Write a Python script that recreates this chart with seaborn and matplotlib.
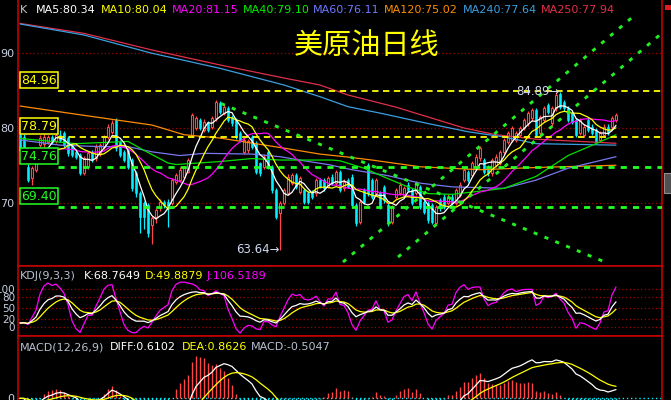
import numpy as np
import pandas as pd
import matplotlib
matplotlib.use("Agg")
import matplotlib.pyplot as plt
import matplotlib.transforms as mtransforms
from matplotlib.patches import Rectangle
import seaborn as sns

# daily candles, oldest first
opens = [79.06, 78.84, 74.81, 73.25, 74.37, 77.72, 77.86, 78.17, 78.84, 78.30,
         79.06, 79.29, 78.62, 77.72, 76.83, 76.38, 73.92, 74.81, 76.83, 75.93,
         76.60, 77.50, 78.84, 79.51, 81.08, 78.17, 76.83, 77.05, 75.71, 73.92,
         71.23, 69.89, 69.67, 66.98, 68.10, 69.22, 70.12, 70.12, 69.89, 72.80,
         73.02, 73.47, 74.14, 79.06, 79.96, 81.08, 79.73, 80.63, 80.18, 81.30,
         83.31, 81.97, 82.64, 81.52, 81.08, 79.29, 76.83, 77.00, 78.84, 77.95,
         75.26, 74.81, 76.83, 74.81, 71.68, 68.55, 69.89, 71.23, 72.58, 73.69,
         71.46, 71.68, 71.23, 71.46, 71.23, 73.02, 73.02, 72.13, 73.47, 72.58,
         74.14, 71.90, 73.02, 73.47, 69.67, 67.43, 71.68, 75.04, 73.02, 71.23,
         71.23, 72.13, 69.67, 67.43, 70.79, 71.23, 71.01, 72.35, 71.68, 71.23,
         72.13, 70.12, 69.89, 69.67, 67.21, 70.34, 70.79, 69.89, 70.79, 69.89,
         71.01, 73.02, 74.14, 73.69, 74.81, 75.93, 75.71, 74.81, 73.92, 75.04,
         75.26, 76.83, 78.17, 78.39, 78.39, 79.06, 79.96, 80.63, 81.30, 82.42,
         79.29, 81.08, 83.09, 80.63, 82.64, 84.60, 83.54, 82.64, 81.97, 81.08,
         79.29, 79.06, 81.08, 80.18, 79.73, 78.39, 79.06, 80.18, 80.18, 81.08]
closes = [77.05, 76.83, 73.02, 74.59, 75.48, 78.62, 78.84, 78.84, 78.17, 79.06,
          78.39, 77.72, 76.60, 76.38, 76.16, 73.92, 75.93, 76.60, 75.71, 77.50,
          77.72, 78.84, 80.18, 80.63, 77.27, 76.38, 75.71, 74.81, 71.90, 71.23,
          68.10, 68.10, 65.86, 67.88, 69.00, 70.12, 69.67, 69.44, 73.02, 73.69,
          74.37, 74.59, 75.71, 81.75, 81.30, 79.96, 80.85, 79.73, 81.30, 83.54,
          82.20, 82.87, 81.08, 80.63, 78.84, 78.39, 78.39, 78.20, 77.50, 74.14,
          73.92, 76.16, 74.81, 71.68, 68.10, 69.89, 71.68, 73.47, 73.69, 72.13,
          73.25, 70.12, 70.12, 70.79, 73.02, 72.13, 71.90, 73.25, 72.58, 74.14,
          71.68, 72.80, 72.13, 69.67, 67.21, 70.12, 70.12, 71.23, 70.79, 73.02,
          69.44, 70.34, 67.21, 69.44, 71.68, 72.35, 71.90, 71.68, 69.89, 72.58,
          69.44, 68.77, 67.65, 67.43, 69.44, 69.22, 69.44, 70.79, 69.89, 71.68,
          72.35, 74.37, 73.02, 75.26, 76.16, 77.27, 74.14, 73.92, 75.71, 76.16,
          76.83, 78.39, 79.29, 79.96, 79.29, 79.96, 81.08, 81.97, 82.42, 79.06,
          81.52, 82.64, 82.20, 82.64, 84.43, 82.87, 82.64, 81.08, 80.85, 79.06,
          81.08, 80.18, 79.73, 79.29, 78.17, 79.29, 80.18, 79.29, 81.30, 81.75]
highs = [79.4, 79.2, 75.2, 74.9, 75.9, 79.0, 79.2, 79.1, 79.1, 79.4,
         79.7, 79.6, 78.9, 78.0, 77.1, 76.6, 76.2, 76.9, 77.1, 77.8,
         78.0, 79.1, 80.5, 81.08, 81.3, 78.4, 77.1, 77.3, 76.0, 74.2,
         71.5, 70.2, 70.0, 68.2, 69.3, 70.5, 70.4, 70.5, 73.3, 74.0,
         74.7, 74.9, 76.0, 82.0, 81.6, 81.4, 81.2, 80.9, 81.6, 83.8,
         83.6, 83.2, 82.9, 81.8, 81.3, 79.6, 78.7, 78.5, 79.1, 78.2,
         75.5, 76.5, 77.1, 75.1, 72.0, 70.2, 72.0, 73.8, 74.0, 74.0,
         73.6, 72.0, 71.5, 71.7, 73.3, 73.3, 73.3, 73.6, 73.8, 74.4,
         74.4, 73.1, 73.3, 73.8, 70.0, 70.4, 72.0, 75.3, 73.3, 73.3,
         71.5, 72.4, 70.0, 69.7, 72.0, 72.7, 72.2, 72.7, 72.0, 72.9,
         72.4, 70.4, 70.2, 70.0, 69.7, 70.6, 71.1, 71.1, 71.1, 72.0,
         72.7, 74.7, 74.4, 75.6, 76.5, 77.6, 76.0, 75.1, 76.0, 76.5,
         77.1, 78.7, 79.6, 80.3, 79.6, 80.3, 81.4, 82.3, 82.7, 82.7,
         81.8, 82.9, 83.4, 82.9, 84.89, 84.8, 83.8, 82.9, 82.2, 81.3,
         81.3, 80.5, 81.5, 80.5, 80.0, 79.6, 80.5, 80.6, 81.6, 82.0]
lows = [76.8, 76.5, 72.8, 72.35, 74.1, 77.4, 77.5, 77.9, 77.9, 78.0,
        78.1, 77.4, 76.3, 76.1, 75.9, 73.7, 73.7, 74.5, 75.4, 75.6,
        76.3, 77.2, 78.5, 79.2, 76.9, 76.1, 75.4, 74.5, 71.5, 70.8,
        65.86, 66.5, 65.42, 64.43, 67.2, 68.8, 69.3, 66.76, 69.6, 72.5,
        72.7, 73.2, 73.9, 78.8, 79.7, 79.7, 79.5, 79.4, 79.9, 81.0,
        81.9, 81.7, 80.8, 80.3, 78.5, 78.1, 76.5, 76.7, 77.2, 73.8,
        73.6, 74.5, 74.5, 71.3, 67.8, 63.64, 69.6, 71.0, 72.3, 71.8,
        71.2, 69.8, 69.8, 70.5, 70.9, 71.9, 71.6, 71.9, 72.3, 72.3,
        71.4, 71.6, 71.9, 69.4, 66.9, 67.1, 69.8, 70.9, 70.5, 70.9,
        69.1, 70.0, 66.9, 67.1, 70.5, 71.0, 70.7, 71.4, 69.6, 71.0,
        69.1, 68.5, 67.3, 67.1, 66.98, 68.9, 69.1, 69.6, 69.6, 69.6,
        70.7, 72.7, 72.7, 73.4, 74.5, 75.6, 73.8, 73.6, 73.6, 74.7,
        75.0, 76.5, 77.9, 78.1, 78.1, 78.8, 79.7, 80.3, 81.0, 78.8,
        79.0, 80.8, 81.9, 80.3, 82.3, 82.6, 82.3, 80.8, 80.6, 78.8,
        79.0, 78.8, 79.4, 79.0, 77.9, 78.1, 78.8, 79.0, 79.9, 80.8]

# longer moving averages (need history before the window): candle index -> value
ma40_idx = [0, 14, 27, 31, 37, 39, 50, 58, 65, 78, 80, 86, 92, 97, 102, 108, 113, 121, 129, 137, 144, 149]
ma40_val = [78.6, 77.9, 78.2, 77.0, 75.3, 75.1, 75.5, 75.9, 75.7, 75.7, 75.6, 74.6, 73.2, 72.1, 71.2, 71.1,
            71.4, 71.9, 73.5, 76.3, 77.9, 79.1]
ma60_idx = [0, 10, 20, 27, 33, 40, 46, 58, 65, 71, 77, 83, 92, 100, 108, 115, 121, 129, 137, 144, 149]
ma60_val = [78.4, 77.7, 77.5, 77.5, 76.8, 76.3, 76.6, 76.5, 76.15, 75.6, 75.1, 74.4, 73.6, 72.6, 72.1, 72.0,
            71.9, 73.0, 74.6, 75.5, 76.15]
ma120_idx = [0, 16, 33, 41, 50, 66, 75, 82, 88, 100, 115, 129, 149]
ma120_val = [82.95, 81.7, 80.4, 79.1, 78.65, 77.3, 76.5, 76.1, 75.7, 74.8, 74.4, 74.7, 75.0]
ma240_idx = [0, 16, 33, 50, 66, 75, 82, 90, 102, 112, 121, 129, 149]
ma240_val = [93.96, 92.48, 90.03, 88.01, 85.77, 84.2, 82.86, 82.0, 80.6, 79.5, 78.8, 77.9, 77.7]
ma250_idx = [0, 16, 33, 50, 66, 75, 82, 94, 111, 119, 129, 149]
ma250_val = [94.04, 92.7, 90.47, 88.46, 86.71, 85.77, 84.43, 82.8, 80.0, 79.1, 78.5, 77.95]

# marked price levels
levels = [84.96, 78.79, 74.76, 69.40]
level_colors = ['#ffff00', '#ffff00', '#22ff22', '#22ff22']

# drawn trend lines: (start idx, start price, end idx, end price)
trend_lines = [(50.25, 83.29, 146.25, 62.01),
               (80.75, 62.01, 153.75, 95.17),
               (94.5, 62.68, 160.5, 92.75)]

header_main = [("K", "#c8c8c8"), ("MA5:80.34", "#ffffff"), ("MA10:80.04", "#ffff00"),
               ("MA20:81.15", "#ff00ff"), ("MA40:79.10", "#00ee00"), ("MA60:76.11", "#6f78ff"),
               ("MA120:75.02", "#ff8c00"), ("MA240:77.64", "#3a9fe0"), ("MA250:77.94", "#e0304a")]
header_main_x = [20, 36, 101, 172, 243, 313, 384, 463, 541]
header_kdj = [("KDJ(9,3,3)", "#b8c0d0"), ("K:68.7649", "#ffffff"), ("D:49.8879", "#ffff00"),
              ("J:106.5189", "#ff00ff")]
header_kdj_x = [20, 84, 145, 207]
header_macd = [("MACD(12,26,9)", "#b8c0d0"), ("DIFF:0.6102", "#ffffff"), ("DEA:0.8626", "#ffff00"),
               ("MACD:-0.5047", "#b8c0d0")]
header_macd_x = [20, 110, 182, 251]

UP = '#ff4646'
DOWN = '#00f0ff'
RED_LINE = '#c00000'
LABEL = '#c8d0e0'

sns.set_style("dark", {"axes.facecolor": "black", "figure.facecolor": "black"})
plt.rcParams['font.family'] = ['DejaVu Sans', 'Noto Sans CJK SC']

df = pd.DataFrame({'o': opens, 'h': highs, 'l': lows, 'c': closes})
df['i'] = np.arange(len(df))

# short averages from the closes
for n in (5, 10, 20):
    df['ma%d' % n] = df['c'].rolling(n, min_periods=1).mean()

# KDJ(9,3,3)
llv = df['l'].rolling(9, min_periods=1).min()
hhv = df['h'].rolling(9, min_periods=1).max()
rsv = (df['c'] - llv) / (hhv - llv) * 100
df['k'] = rsv.ewm(alpha=1 / 3, adjust=False).mean()
df['d'] = df['k'].ewm(alpha=1 / 3, adjust=False).mean()
df['j'] = 3 * df['k'] - 2 * df['d']

# MACD(12,26,9)
df['diff'] = df['c'].ewm(span=12, adjust=False).mean() - df['c'].ewm(span=26, adjust=False).mean()
df['dea'] = df['diff'].ewm(span=9, adjust=False).mean()
df['macd'] = 2 * (df['diff'] - df['dea'])

W, H = 671, 400
fig = plt.figure(figsize=(6.71, 4.0), dpi=100)
ax = fig.add_axes([18 / W, 134 / H, 644 / W, 266 / H])
ax_kdj = fig.add_axes([18 / W, 64 / H, 644 / W, 70 / H])
ax_macd = fig.add_axes([18 / W, 0, 644 / W, 64 / H])

for a in (ax, ax_kdj, ax_macd):
    a.set_facecolor('black')
    a.set_xlim(-0.5, 160.5)
    a.set_xticks([])
    for s in a.spines.values():
        s.set_color(RED_LINE)
        s.set_linewidth(1.2)
    a.tick_params(axis='y', length=0, pad=2.5, labelcolor=LABEL)
ax.spines['top'].set_visible(False)
ax_macd.spines['bottom'].set_visible(False)

# ---- main panel ----
ax.set_ylim(61.48, 97.18)
ax.set_yticks([70, 80, 90])
ax.tick_params(axis='y', labelsize=8)
ax.grid(axis='y', color='#a00000', linestyle=(0, (1, 2)), linewidth=0.9)
ax.grid(axis='x', visible=False)

up = df['c'] >= df['o']
colors = np.where(up, UP, DOWN)
ax.vlines(df['i'], df['l'], df['h'], colors=colors, linewidth=0.9, zorder=2)
body_lo = np.minimum(df['o'], df['c'])
body_h = np.maximum(np.abs(df['c'] - df['o']), 0.06)
ax.bar(df['i'][up], body_h[up], bottom=body_lo[up], width=0.62,
       facecolor='black', edgecolor=UP, linewidth=0.8, zorder=2.5)
ax.bar(df['i'][~up], body_h[~up], bottom=body_lo[~up], width=0.62,
       facecolor=DOWN, edgecolor=DOWN, linewidth=0.4, zorder=2.5)

long_mas = [(ma250_idx, ma250_val, '#e0304a'), (ma240_idx, ma240_val, '#3a9fe0'),
            (ma120_idx, ma120_val, '#ff8c00'), (ma60_idx, ma60_val, '#7878f0'),
            (ma40_idx, ma40_val, '#00e000')]
for xi, yv, c in long_mas:
    sns.lineplot(x=xi, y=yv, ax=ax, color=c, linewidth=0.9, legend=False, zorder=3)
for col, c in (('ma20', '#ff00ff'), ('ma10', '#ffff00'), ('ma5', '#ffffff')):
    sns.lineplot(data=df, x='i', y=col, ax=ax, color=c, linewidth=0.9, legend=False, zorder=3.2)

# marked levels with boxed labels
line_start = (58 - 18) / 644
for lv, c in zip(levels, level_colors):
    green = c != '#ffff00'
    ax.axhline(lv, xmin=line_start, xmax=1, color=c,
               linestyle=(0, (2.2, 2.2)) if green else (0, (3.5, 2.5)),
               linewidth=2.0 if green else 1.3, zorder=4)
    ax.annotate('%.2f' % lv, xy=(3 / 644, lv), xycoords=('axes fraction', 'data'),
                xytext=(0, 3.2), textcoords='offset points', ha='left', va='bottom',
                color=c, fontsize=9, zorder=5,
                bbox=dict(boxstyle='square,pad=0.12', fc='black', ec=c, lw=1.1))

# trend lines
for x0, y0, x1, y1 in trend_lines:
    ax.plot([x0, x1], [y0, y1], color='#22ee22', linewidth=2.1,
            linestyle=(0, (1.4, 2.6)), zorder=4)

# highest / lowest marks
hi_i = int(df['h'].idxmax())
lo_i = int(df['l'].idxmin())
ax.text(hi_i + 1, df['h'][hi_i], '%.2f\u2192' % df['h'][hi_i], ha='right', va='center',
        color='#d0d8f0', fontsize=8.5, zorder=6)
ax.text(lo_i, df['l'][lo_i], '%.2f\u2192' % df['l'][lo_i], ha='right', va='center',
        color='#d0d8f0', fontsize=8.5, zorder=6)

# right side scale (cut off by the frame)
right_ticks = [93.6, 89.1, 85.8, 83.4, 80.8, 77.4, 75.4, 69.4, 67.1]
tr = mtransforms.blended_transform_factory(ax.transAxes, ax.transData)
for v in right_ticks:
    ax.text(1.0, v, '   %.2f' % v, transform=tr, ha='left', va='center', color='#e0e0e0',
            fontsize=8, clip_on=False)

# ---- KDJ ----
ax_kdj.set_ylim(-25.2, 162.5)
ax_kdj.set_yticks([0, 20, 50, 80, 100])
ax_kdj.tick_params(axis='y', labelsize=7.5, pad=2)
ax_kdj.grid(axis='y', color='#a00000', linestyle=(0, (1, 2)), linewidth=0.9)
ax_kdj.grid(axis='x', visible=False)
for col, c in (('j', '#ff00ff'), ('d', '#ffff00'), ('k', '#ffffff')):
    sns.lineplot(data=df, x='i', y=col, ax=ax_kdj, color=c, linewidth=0.9, legend=False)

# ---- MACD ----
ax_macd.set_ylim(-0.115, 4.21)
ax_macd.set_yticks([0])
ax_macd.tick_params(axis='y', labelsize=8)
ax_macd.grid(False)
ax_macd.axhline(0, color=DOWN, linestyle=(0, (1, 2)), linewidth=1.0)
ax_macd.vlines(df['i'], 0, df['macd'], colors=np.where(df['macd'] >= 0, UP, DOWN), linewidth=1.0)
sns.lineplot(data=df, x='i', y='diff', ax=ax_macd, color='#ffffff', linewidth=0.9, legend=False)
sns.lineplot(data=df, x='i', y='dea', ax=ax_macd, color='#ffff00', linewidth=0.9, legend=False)

for a in (ax, ax_kdj, ax_macd):
    a.set_xlabel('')
    a.set_ylabel('')
    a.set_xlim(-0.5, 160.5)

# headers
for (t, c), x in zip(header_main, header_main_x):
    fig.text(x / W, 1 - 10 / H, t, color=c, fontsize=8, ha='left', va='center')
for (t, c), x in zip(header_kdj, header_kdj_x):
    fig.text(x / W, 1 - 276 / H, t, color=c, fontsize=8, ha='left', va='center')
for (t, c), x in zip(header_macd, header_macd_x):
    fig.text(x / W, 1 - 347 / H, t, color=c, fontsize=8, ha='left', va='center')

fig.text(367 / W, 1 - 46 / H, '美原油日线', color='#ffff00', fontsize=21,
         family=['Noto Sans CJK SC', 'DejaVu Sans'], ha='center', va='center')

# bits of the price scale frame on the right edge
fig.patches.append(Rectangle((664 / W, 1 - 193 / H), 8 / W, 20 / H, transform=fig.transFigure,
                             facecolor='#505050', edgecolor='#909090', lw=0.8))
fig.patches.append(Rectangle((665 / W, 1 - 10 / H), 7 / W, 5 / H, transform=fig.transFigure,
                             facecolor='#e02020', edgecolor='none'))

fig.savefig('out.png', dpi=100, facecolor='black')
